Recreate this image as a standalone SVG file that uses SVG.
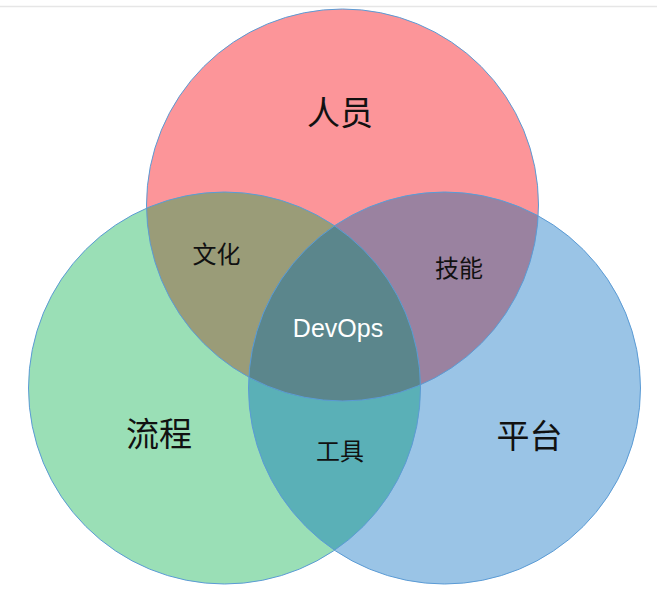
<svg xmlns="http://www.w3.org/2000/svg" width="657" height="596" viewBox="0 0 657 596">
<style>
.cjk{font-family:"Noto Sans CJK SC","Noto Sans",sans-serif;fill:#111;text-anchor:middle}
.big{font-size:33px}
.small{font-size:24px}
.ring{fill:none;stroke:#5b9bd5;stroke-width:1}
.dev{font-family:"Liberation Sans",Arial,sans-serif;font-size:25px;fill:#fff;text-anchor:middle}
</style>
<defs>
<clipPath id="cpTop"><circle cx="342.5" cy="205" r="196"/></clipPath>
<clipPath id="cpLeft"><circle cx="224.5" cy="388" r="196"/></clipPath>
<clipPath id="cpTopLeft" clip-path="url(#cpTop)"><circle cx="224.5" cy="388" r="196"/></clipPath>
</defs>
<rect x="0" y="0" width="657" height="596" fill="#fff"/>
<line x1="0" y1="6.5" x2="657" y2="6.5" stroke="#e6e6e6" stroke-width="1.5"/>
<g id="people"><circle cx="342.5" cy="205" r="196" fill="#fc9599"/></g>
<g id="process"><circle cx="224.5" cy="388" r="196" fill="#9adfb6"/></g>
<g id="platform"><circle cx="444.5" cy="388" r="196" fill="#9ac4e6"/></g>
<g id="culture"><circle cx="224.5" cy="388" r="196" fill="#9a9c78" clip-path="url(#cpTop)"/></g>
<g id="skills"><circle cx="444.5" cy="388" r="196" fill="#9a82a0" clip-path="url(#cpTop)"/></g>
<g id="tools"><circle cx="444.5" cy="388" r="196" fill="#5ab0b7" clip-path="url(#cpLeft)"/></g>
<g id="devops"><circle cx="444.5" cy="388" r="196" fill="#5b868c" clip-path="url(#cpTopLeft)"/></g>
<g id="outlines">
<circle class="ring" cx="342.5" cy="205" r="196"/>
<circle class="ring" cx="224.5" cy="388" r="196"/>
<circle class="ring" cx="444.5" cy="388" r="196"/>
</g>
<g id="labels">
<text class="cjk big" x="340" y="125">人员</text>
<text class="cjk big" x="159" y="446">流程</text>
<text class="cjk big" x="529.5" y="447.5">平台</text>
<text class="cjk small" x="216.5" y="263">文化</text>
<text class="cjk small" x="459" y="277">技能</text>
<text class="cjk small" x="340" y="460">工具</text>
<text class="dev" x="338" y="337">DevOps</text>
</g>
</svg>
